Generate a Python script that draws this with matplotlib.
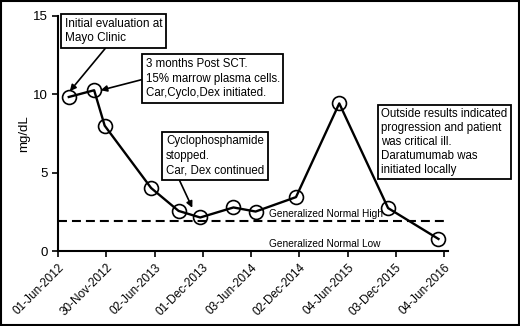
import matplotlib
matplotlib.use("Agg")
import matplotlib.pyplot as plt
import pandas as pd

plt.rcParams['font.family'] = ['Liberation Sans', 'DejaVu Sans']

# measurement dates and values (mg/dL)
dates = pd.to_datetime(['2012-07-12', '2012-10-16', '2012-11-25', '2013-05-20',
                        '2013-09-01', '2013-11-22', '2014-03-28', '2014-06-20',
                        '2014-11-20', '2015-05-03', '2015-11-04', '2016-05-13'])
values = [9.83, 10.26, 8.0, 4.02, 2.56, 2.14, 2.78, 2.52, 3.44, 9.42, 2.74, 0.77]

normal_high = 1.94
normal_low = 0.1

tick_dates = pd.to_datetime(['2012-06-01', '2012-11-30', '2013-06-02', '2013-12-01',
                             '2014-06-03', '2014-12-02', '2015-06-04', '2015-12-03',
                             '2016-06-04'])
tick_labels = [d.strftime('%d-%b-%Y') for d in tick_dates]

fig = plt.figure(figsize=(5.2, 3.26), dpi=100)
ax = fig.add_axes([0.1115, 0.23, 0.75, 0.721])

# reference line and labels
ax.plot([tick_dates[0], tick_dates[-1]], [normal_high, normal_high], color='black',
        lw=1.5, dashes=(4.3, 2.4))
ax.text(pd.Timestamp('2014-08-09'), normal_high + 0.1, 'Generalized Normal High',
        fontsize=7.3, va='bottom', ha='left')
ax.text(pd.Timestamp('2014-08-09'), normal_low, 'Generalized Normal Low',
        fontsize=7.3, va='bottom', ha='left')

# data
ax.plot(dates, values, color='black', lw=1.7, marker='o', ms=10,
        mfc='none', mec='black', mew=1.2)

ax.set_xlim(tick_dates[0], tick_dates[-1] + pd.Timedelta(days=14))
ax.set_ylim(0, 15)
ax.set_yticks([0, 5, 10, 15])
ax.set_xticks(tick_dates)
ax.set_xticklabels(tick_labels, rotation=45, ha='right', rotation_mode='anchor',
                   fontsize=8.5)
ax.tick_params(axis='y', labelsize=9.5, length=4, width=1.2)
ax.tick_params(axis='x', length=4, width=1.2)
ax.spines['top'].set_visible(False)
ax.spines['right'].set_visible(False)
ax.spines['left'].set_linewidth(1.5)
ax.spines['bottom'].set_linewidth(1.5)
ax.set_ylabel('mg/dL', fontsize=9.5)
ax.yaxis.set_label_coords(-0.072, 0.5)

box = dict(boxstyle='square,pad=0.3', fc='white', ec='black', lw=1.3)


def arrow(rel):
    return dict(arrowstyle='-|>', color='black', lw=1.2, mutation_scale=9,
                shrinkA=0, shrinkB=0, relpos=rel)


ax.annotate('Initial evaluation at\nMayo Clinic',
            xy=(pd.Timestamp('2012-07-16'), 10.2),
            xytext=(pd.Timestamp('2012-06-27'), 14.9), fontsize=8.5, va='top',
            ha='left', bbox=box, arrowprops=arrow((0.45, 0)), linespacing=1.3)
ax.annotate('3 months Post SCT.\n15% marrow plasma cells.\nCar,Cyclo,Dex initiated.',
            xy=(pd.Timestamp('2012-11-10'), 10.26),
            xytext=(pd.Timestamp('2013-04-29'), 11.0),
            fontsize=8.3, va='center', ha='left', bbox=box, arrowprops=arrow((0, 0.5)),
            linespacing=1.3)
ax.annotate('Cyclophosphamide\nstopped.\nCar, Dex continued',
            xy=(pd.Timestamp('2013-10-23'), 2.76),
            xytext=(pd.Timestamp('2013-07-15'), 7.4), fontsize=8.3, va='top',
            ha='left', bbox=box, arrowprops=arrow((0.12, 0)), linespacing=1.3)
ax.text(pd.Timestamp('2015-10-09'), 9.1,
        'Outside results indicated\nprogression and patient\nwas critical ill.\nDaratumumab was\ninitiated locally',
        fontsize=8.3, va='top', ha='left', bbox=box, linespacing=1.2, clip_on=False)

fig.patches.append(plt.Rectangle((0.002, 0.003), 0.996, 0.994, transform=fig.transFigure,
                                 fill=False, ec='black', lw=1.5))

fig.savefig('out.png', dpi=100)
